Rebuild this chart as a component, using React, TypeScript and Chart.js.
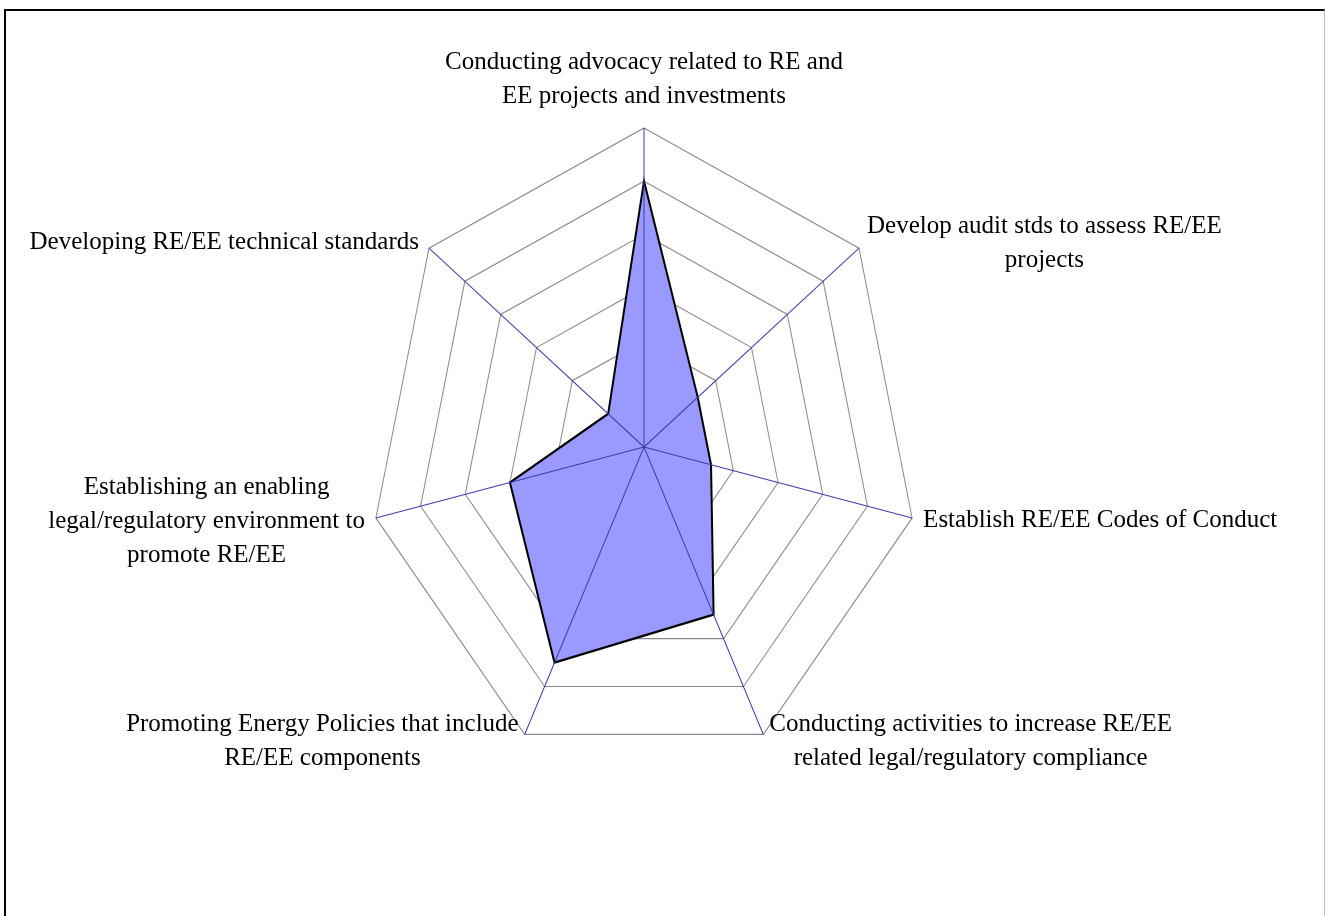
import React, { useEffect, useRef } from "react";
import { Chart, registerables } from "chart.js";

Chart.register(...registerables);

// ---- data ----
const categories: string[][] = [
  ["Conducting advocacy related to RE and", "EE projects and investments"],
  ["Develop audit stds to assess RE/EE", "projects"],
  ["Establish RE/EE Codes of Conduct"],
  ["Conducting activities to increase RE/EE", "related legal/regulatory compliance"],
  ["Promoting Energy Policies that include", "RE/EE components"],
  ["Establishing an enabling", "legal/regulatory environment to", "promote RE/EE"],
  ["Developing RE/EE technical standards"],
];
const values: number[] = [5, 1.5, 1.5, 3.5, 4.5, 3, 1];
const scaleMin = 0;
const scaleMax = 6;
const scaleStep = 1;

// ---- style ----
const STRETCH_Y = 319 / 275;
const LABEL_FONT = '25px "Liberation Serif", serif';
const LINE_H = 34;
// per label: alignment of block relative to vertex, and offsets
const labelPlace: { align: "left" | "right" | "center"; dx: number; dy: number }[] = [
  { align: "center", dx: 0, dy: -49 },
  { align: "left", dx: 8, dy: -5 },
  { align: "left", dx: 11, dy: 2 },
  { align: "left", dx: 6, dy: 7 },
  { align: "right", dx: -6, dy: 7 },
  { align: "right", dx: -11, dy: 3 },
  { align: "right", dx: -10, dy: -6 },
];

const stretchPlugin = {
  id: "stretchRadar",
  beforeDraw(chart: any) {
    const s = chart.scales.r;
    const ctx = chart.ctx;
    ctx.save();
    ctx.translate(s.xCenter, s.yCenter);
    ctx.scale(1, STRETCH_Y);
    ctx.translate(-s.xCenter, -s.yCenter);
  },
  afterDatasetsDraw(chart: any) {
    const s = chart.scales.r;
    const ctx = chart.ctx;
    ctx.save();
    ctx.strokeStyle = "#3c3cae";
    ctx.lineWidth = 1;
    for (let i = 0; i < categories.length; i++) {
      const p = s.getPointPosition(i, s.drawingArea);
      ctx.beginPath();
      ctx.moveTo(s.xCenter, s.yCenter);
      ctx.lineTo(p.x, p.y);
      ctx.stroke();
    }
    ctx.restore();
  },
  afterDraw(chart: any) {
    const ctx = chart.ctx;
    ctx.restore();
    const s = chart.scales.r;
    ctx.save();
    ctx.font = LABEL_FONT;
    ctx.fillStyle = "#000";
    ctx.textBaseline = "middle";
    ctx.textAlign = "center";
    for (let i = 0; i < categories.length; i++) {
      const p = s.getPointPosition(i, s.drawingArea);
      const vx = p.x;
      const vy = s.yCenter + (p.y - s.yCenter) * STRETCH_Y;
      const lines = categories[i];
      const bw = Math.max(...lines.map((l) => ctx.measureText(l).width));
      const place = labelPlace[i];
      let cx = vx + place.dx;
      if (place.align === "left") cx = vx + place.dx + bw / 2;
      if (place.align === "right") cx = vx + place.dx - bw / 2;
      const cy = vy + place.dy;
      const top = cy - ((lines.length - 1) * LINE_H) / 2;
      lines.forEach((l, j) => ctx.fillText(l, cx, top + j * LINE_H));
    }
    ctx.restore();
  },
};

export default function App() {
  const ref = useRef<HTMLCanvasElement | null>(null);
  useEffect(() => {
    if (!ref.current) return;
    const chart = new Chart(ref.current, {
      type: "radar",
      data: {
        labels: categories,
        datasets: [
          {
            data: values,
            backgroundColor: "#9999ff",
            borderColor: "#000000",
            borderWidth: 2,
            pointRadius: 0,
            pointHoverRadius: 0,
            fill: "origin",
            clip: false,
            tension: 0,
          } as any,
        ],
      },
      options: {
        responsive: false,
        animation: false,
        devicePixelRatio: 1,
        layout: { padding: { left: 369, right: 407, top: 172, bottom: 194 } },
        plugins: { legend: { display: false }, tooltip: { enabled: false } },
        scales: {
          r: {
            min: scaleMin,
            max: scaleMax,
            ticks: { display: false, stepSize: scaleStep },
            grid: { color: "#8a8a8a", lineWidth: 1 },
            angleLines: { display: false },
            pointLabels: { display: false },
          },
        },
      } as any,
      plugins: [stretchPlugin],
    });
    return () => chart.destroy();
  }, []);
  return (
    <div>
      <canvas
        ref={ref}
        width={1326}
        height={916}
        style={{ position: "fixed", left: 0, top: 0, width: 1326, height: 916 }}
      />
      <div
        style={{
          position: "fixed",
          left: 4,
          top: 9,
          width: 1321,
          height: 1000,
          boxSizing: "border-box",
          borderLeft: "2px solid #000",
          borderTop: "2px solid #000",
          borderRight: "1px solid #c0c0c0",
          pointerEvents: "none",
        }}
      />
    </div>
  );
}
